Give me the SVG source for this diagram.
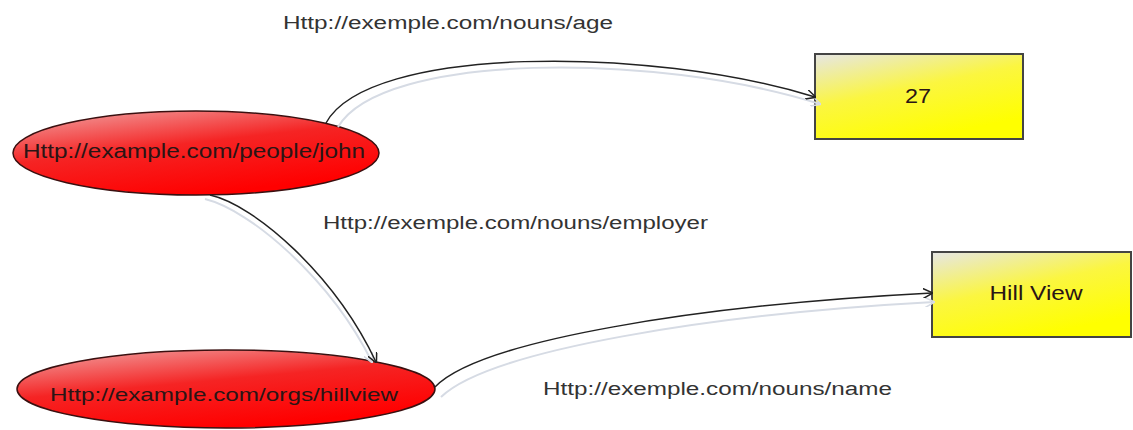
<svg xmlns="http://www.w3.org/2000/svg" width="1133" height="430" viewBox="0 0 1133 430">
<defs>
<linearGradient id="redG" x1="0" y1="0" x2="0.5" y2="1">
<stop offset="0" stop-color="#f0a8a8"/>
<stop offset="0.5" stop-color="#f52424"/>
<stop offset="1" stop-color="#ff0000"/>
</linearGradient>
<linearGradient id="yelG" x1="0" y1="0" x2="0.5" y2="1">
<stop offset="0" stop-color="#e6e6e6"/>
<stop offset="0.5" stop-color="#fbf640"/>
<stop offset="1" stop-color="#ffff00"/>
</linearGradient>
<marker id="arr" viewBox="0 0 10 10" refX="9" refY="5" markerWidth="10" markerHeight="10" markerUnits="userSpaceOnUse" orient="auto">
<path d="M0,0 L10,5 L0,10" fill="none" stroke="#222" stroke-width="1.5"/>
</marker>
<marker id="arrS" viewBox="0 0 10 10" refX="9" refY="5" markerWidth="10" markerHeight="10" markerUnits="userSpaceOnUse" orient="auto">
<path d="M0,0 L10,5 L0,10" fill="none" stroke="#d6dbe4" stroke-width="1.5"/>
</marker>
</defs>
<style>
.ell{fill:url(#redG);stroke:#3a1010;stroke-width:1.5}
.box{fill:url(#yelG);stroke:#444;stroke-width:2}
.nt{font-family:"Liberation Sans",Arial,sans-serif;fill:#2a1515;text-anchor:middle}
.lbl{font-family:"Liberation Sans",Arial,sans-serif;font-size:18px;fill:#333}
.edge{fill:none;stroke:#222;stroke-width:1.5;marker-end:url(#arr)}
.shadow{fill:none;stroke:#d6dbe4;stroke-width:2;marker-end:url(#arrS)}
</style>
<rect width="1133" height="430" fill="#ffffff"/>
<g id="node-john">
<ellipse class="ell" cx="196" cy="153" rx="183" ry="42"/>
<text class="nt" x="194" y="158" font-size="20" textLength="342" lengthAdjust="spacingAndGlyphs">Http://example.com/people/john</text>
</g>
<g id="node-hillview">
<ellipse class="ell" cx="226" cy="389" rx="209" ry="39"/>
<text class="nt" x="224" y="401" font-size="19" textLength="348" lengthAdjust="spacingAndGlyphs">Http://example.com/orgs/hillview</text>
</g>
<g id="node-27">
<rect class="box" x="815" y="54" width="208" height="85"/>
<text class="nt" x="918" y="103" font-size="20" textLength="26" lengthAdjust="spacingAndGlyphs">27</text>
</g>
<g id="node-hillviewname">
<rect class="box" x="932" y="252" width="199" height="85"/>
<text class="nt" x="1036" y="300" font-size="20" textLength="93" lengthAdjust="spacingAndGlyphs">Hill View</text>
</g>
<g id="connectors">
<path class="shadow" d="M338,127 C382,52 655,52 820,104"/>
<path class="edge" d="M326,123 C368,45 650,46 815,97"/>
<path class="shadow" d="M205,199 C250,210 330,278 372,362"/>
<path class="edge" d="M210,195 C255,205 335,275 376,362"/>
<path class="shadow" d="M441,397 C490,350 712,314 934,302"/>
<path class="edge" d="M435,387 C480,340 700,305 932,293"/>
</g>
<g id="labels">
<text class="lbl" x="283" y="29" textLength="330" lengthAdjust="spacingAndGlyphs">Http://exemple.com/nouns/age</text>
<text class="lbl" x="323" y="229" textLength="385" lengthAdjust="spacingAndGlyphs">Http://exemple.com/nouns/employer</text>
<text class="lbl" x="543" y="395" textLength="349" lengthAdjust="spacingAndGlyphs">Http://exemple.com/nouns/name</text>
</g>
</svg>
